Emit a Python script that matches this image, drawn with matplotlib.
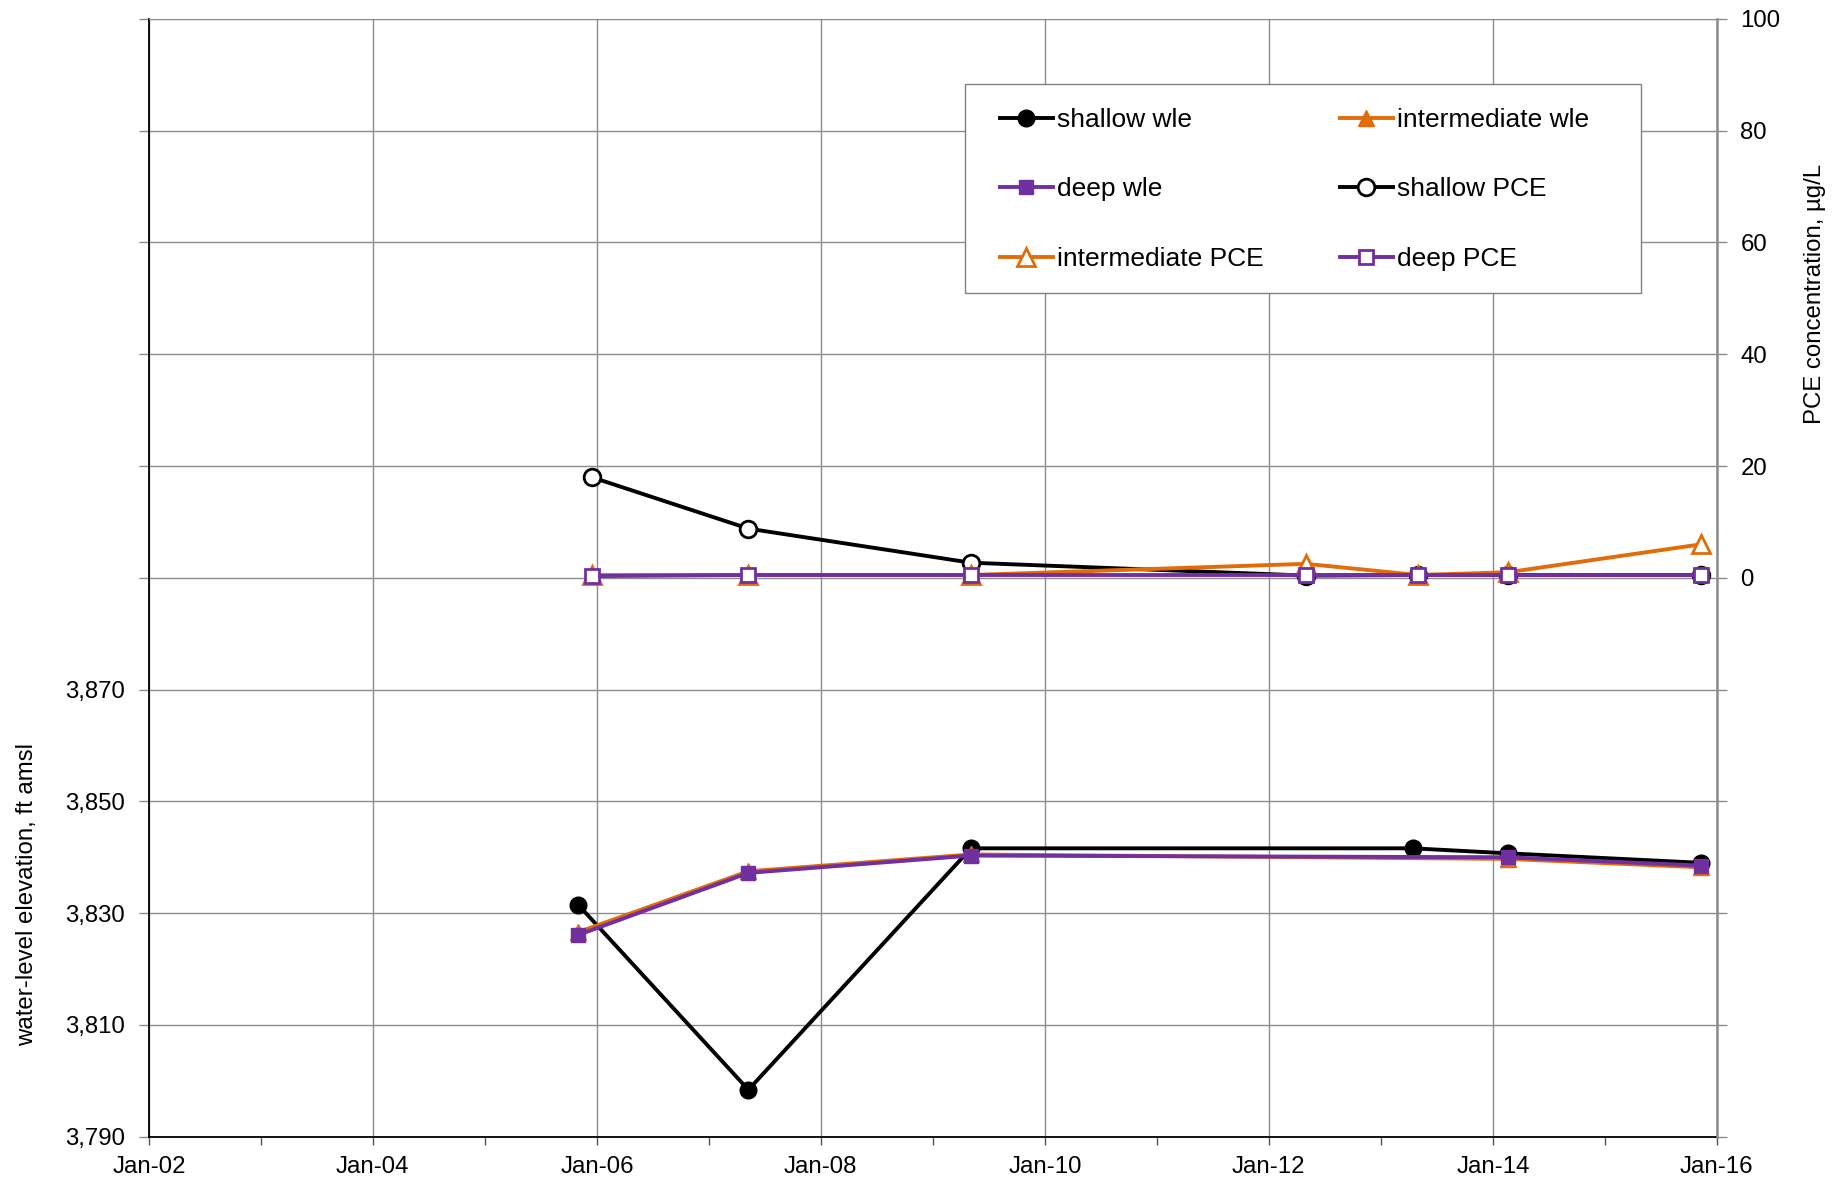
import datetime as dt
import matplotlib
matplotlib.use("Agg")
import matplotlib.pyplot as plt
import matplotlib.dates as mdates
from matplotlib.patches import Rectangle
from matplotlib.ticker import FixedLocator, FuncFormatter

plt.rcParams["font.family"] = ["Liberation Sans", "DejaVu Sans"]

# ---------------- data ----------------
wle_dates = ["2005-11-01", "2007-05-10", "2009-05-05", "2013-04-15", "2014-02-20", "2015-11-12"]
shallow_wle = [3831.5, 3798.4, 3841.6, 3841.6, 3840.7, 3839.0]

wle_dates_id = ["2005-11-01", "2007-05-10", "2009-05-05", "2014-02-20", "2015-11-12"]
intermediate_wle = [3826.6, 3837.5, 3840.5, 3839.7, 3838.2]
deep_wle = [3826.1, 3837.2, 3840.3, 3840.0, 3838.5]

pce_dates = ["2005-12-15", "2007-05-10", "2009-05-05", "2012-05-01", "2013-05-01", "2014-02-20", "2015-11-12"]
shallow_pce = [18.0, 8.8, 2.7, 0.4, 0.5, 0.5, 0.5]
intermediate_pce = [0.5, 0.5, 0.5, 2.5, 0.5, 1.0, 6.0]
deep_pce = [0.3, 0.5, 0.5, 0.5, 0.5, 0.5, 0.5]

left_ticks = list(range(3790, 4000, 20))
left_labeled_max = 3870
right_ticks = list(range(-100, 120, 20))

ORANGE = "#E36C0A"
PURPLE = "#7030A0"
GRID = "#8c8c8c"


def to_dates(lst):
    return [dt.datetime.strptime(s, "%Y-%m-%d") for s in lst]


# ---------------- figure ----------------
fig = plt.figure(figsize=(18.45, 11.81), dpi=100)
ax = fig.add_axes([0.0807, 0.0375, 0.8498, 0.9465])
ax2 = ax.twinx()

lw = 2.8
ms = 12

h1, = ax.plot(to_dates(wle_dates), shallow_wle, color="black", lw=lw, marker="o",
              ms=ms, mfc="black", mec="black", label="shallow wle", zorder=3)
h2, = ax.plot(to_dates(wle_dates_id), intermediate_wle, color=ORANGE, lw=lw, marker="^",
              ms=ms, mfc=ORANGE, mec=ORANGE, label="intermediate wle", zorder=4)
h3, = ax.plot(to_dates(wle_dates_id), deep_wle, color=PURPLE, lw=lw, marker="s",
              ms=ms - 1.5, mfc=PURPLE, mec=PURPLE, label="deep wle", zorder=5)

h4, = ax2.plot(to_dates(pce_dates), shallow_pce, color="black", lw=lw, marker="o",
               ms=ms, mfc="white", mec="black", mew=2.0, label="shallow PCE", zorder=3)
h5, = ax2.plot(to_dates(pce_dates), intermediate_pce, color=ORANGE, lw=lw, marker="^",
               ms=ms + 0.5, mfc="white", mec=ORANGE, mew=2.0, label="intermediate PCE", zorder=4)
h6, = ax2.plot(to_dates(pce_dates), deep_pce, color=PURPLE, lw=lw, marker="s",
               ms=ms - 1.5, mfc="white", mec=PURPLE, mew=2.0, label="deep PCE", zorder=5)

# x axis
ax.set_xlim(dt.datetime(2002, 1, 1), dt.datetime(2016, 1, 1))
ax.xaxis.set_major_locator(mdates.YearLocator(2))
ax.xaxis.set_minor_locator(mdates.YearLocator(1))
ax.xaxis.set_major_formatter(mdates.DateFormatter("Jan-%y"))

# y axes
ax.set_ylim(3790, 3990)
ax.yaxis.set_major_locator(FixedLocator(left_ticks))
ax.yaxis.set_major_formatter(FuncFormatter(
    lambda v, p: f"{int(round(v)):,}" if v <= left_labeled_max else ""))
ax2.set_ylim(-100, 100)
ax2.yaxis.set_major_locator(FixedLocator(right_ticks))
ax2.yaxis.set_major_formatter(FuncFormatter(
    lambda v, p: f"{int(round(v))}" if v >= 0 else ""))

ax.grid(True, which="major", color=GRID, lw=1.0)
ax.set_axisbelow(True)

ax.tick_params(axis="x", which="both", direction="out", length=6, width=1,
               color="#555555", labelsize=17.3, pad=8)
ax.tick_params(axis="y", direction="out", length=7, width=1, color=GRID,
               labelsize=17.3, pad=10)
ax2.tick_params(axis="y", direction="out", length=7, width=1, color=GRID,
                labelsize=17.3, pad=10)

for s in ["left", "bottom"]:
    ax.spines[s].set_color("black")
    ax.spines[s].set_linewidth(1.3)
ax.spines["top"].set_color(GRID)
ax.spines["right"].set_visible(False)
ax2.spines["right"].set_color(GRID)
ax2.spines["right"].set_linewidth(1.8)
for s in ["left", "bottom", "top"]:
    ax2.spines[s].set_visible(False)

ax.set_ylabel("water-level elevation, ft amsl", fontsize=17.3)
ax.yaxis.set_label_coords(-0.0705, 0.217)
ax2.set_ylabel("PCE concentration, µg/L", fontsize=17.3, rotation=90)
ax2.yaxis.set_label_coords(1.0555, 0.754)

# legend box drawn separately so the padding matches the reference
ax2.add_patch(Rectangle((0.5206, 0.7547), 0.4311, 0.1874, transform=ax2.transAxes,
                        facecolor="white", edgecolor="#808080", lw=1.0, zorder=9))
handles = [h1, h3, h5, h2, h4, h6]
leg = ax2.legend(handles=handles, labels=[h.get_label() for h in handles],
                 ncol=2, loc="upper left", bbox_to_anchor=(0.5429, 0.9203),
                 fontsize=19, frameon=False,
                 handlelength=2.0, handletextpad=0.15, labelspacing=1.72,
                 columnspacing=2.9, borderpad=0.0, borderaxespad=0.0)
leg.set_zorder(10)

fig.savefig("out.png", dpi=100)
